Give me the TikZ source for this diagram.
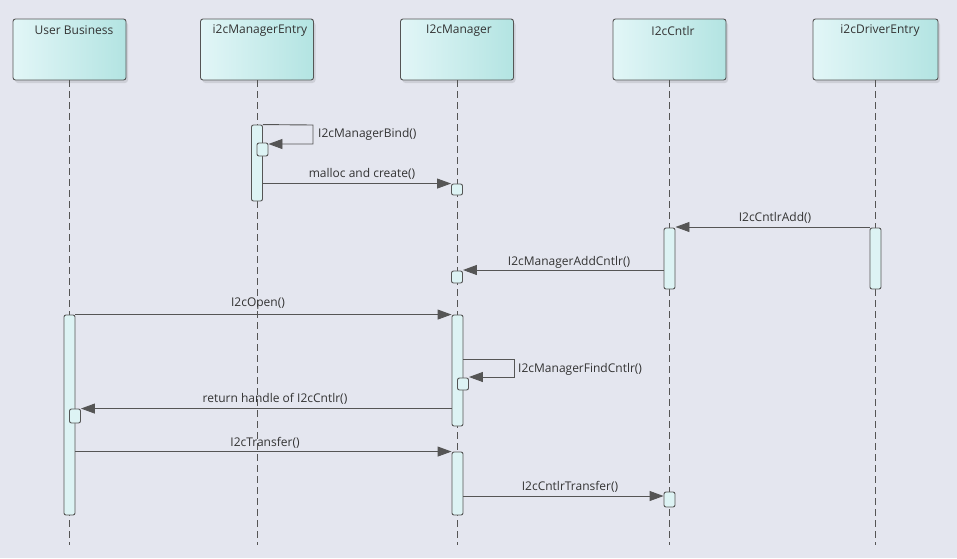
\documentclass[tikz,border=0pt]{standalone}
\usepackage{fontspec}
\setmainfont{Open Sans}
\usetikzlibrary{arrows.meta,calc}
\definecolor{bg}{HTML}{E4E6EF}
\definecolor{ln}{HTML}{555555}
\definecolor{txt}{HTML}{333333}
\definecolor{hl}{HTML}{E2F6F7}
\definecolor{hr}{HTML}{B3E4E2}
\definecolor{actf}{HTML}{DDF3F4}
\definecolor{shd}{HTML}{CDCFD7}
\tikzset{
  head/.style={draw=ln, line width=0.9pt, rounded corners=2.5pt, left color=hl, right color=hr,
    minimum width=113pt, minimum height=61pt, inner sep=0pt},
  headtxt/.style={text=txt, font=\fontsize{12}{14}\selectfont, anchor=center, inner sep=0pt},
  life/.style={draw=ln, line width=0.8pt, dash pattern=on 7pt off 4pt},
  act/.style={draw=ln, line width=0.9pt, fill=actf, rounded corners=2pt, minimum width=11pt, inner sep=0pt},
  msg/.style={draw=ln, line width=0.9pt, -{Triangle[length=14pt,width=10pt]}},
  lbl/.style={text=txt, font=\fontsize{12}{14}\selectfont, inner sep=0pt},
}
\begin{document}
\begin{tikzpicture}[x=1pt,y=-1pt]
\fill[bg] (0,0) rectangle (957,558);
\useasboundingbox (0,0) rectangle (957,558);

% shadows
\foreach \cx/\w in {69.5/113,257/113,457/113,669.5/113,875.5/125}{
  \fill[shd, rounded corners=3pt] ($(\cx,49.5)+(-\w/2+2,-30.5+3)$) rectangle ($(\cx,49.5)+(\w/2+2,30.5+3)$);
}

% headers
\node[head] (ub) at (69.5,49.5) {};
\node[head] (me) at (257,49.5) {};
\node[head] (m) at (457,49.5) {};
\node[head] (c) at (669.5,49.5) {};
\node[head, minimum width=125pt] (d) at (875.5,49.5) {};
\node[headtxt] (ubt) at (74,30.5) {User Business};
\node[headtxt] (met) at (260,30.5) {i2cManagerEntry};
\node[headtxt] (mt) at (459,30.5) {I2cManager};
\node[headtxt] (ct) at (673,30.5) {I2cCntlr};
\node[headtxt] (dt) at (880,30.5) {i2cDriverEntry};

% lifeline ends
\coordinate (ube) at (69.5,545);
\coordinate (mee) at (257,545);
\coordinate (me2) at (457,545);
\coordinate (ce) at (669.5,545);
\coordinate (de) at (875.5,545);
\draw[life] (ub.south) -- (ube);
\draw[life] (me.south) -- (mee);
\draw[life] (m.south) -- (me2);
\draw[life] (c.south) -- (ce);
\draw[life] (d.south) -- (de);

% activations
\node[act, minimum height=76pt] (aME) at (257,163) {};
\node[act, minimum height=13pt] (bME) at (262.5,149.5) {};
\node[act, minimum height=11pt] (bM1) at (457,189.5) {};
\node[act, minimum height=61pt] (aD) at (875.5,258.5) {};
\node[act, minimum height=61pt] (aC) at (669.5,258.5) {};
\node[act, minimum height=12pt] (bM2) at (457,277) {};
\node[act, minimum height=200pt] (aUB) at (69.5,415) {};
\node[act, minimum height=111pt] (aM1) at (457.5,370.5) {};
\node[act, minimum height=12pt] (bM3) at (463,384) {};
\node[act, minimum height=14pt] (bUB) at (75,416) {};
\node[act, minimum height=63pt] (aM2) at (457.5,483.5) {};
\node[act, minimum height=15pt] (bC) at (669.5,499.5) {};

% turning points of self calls
\coordinate (s1a) at (313,125);
\coordinate (s1b) at (313,144);
\coordinate (s2a) at (514,359);
\coordinate (s2b) at (514,377);

% messages
\draw[msg] (aME.north east) -- (s1a) -- (s1b) -- (bME.east |- s1b);
\node[lbl, anchor=west] (l1) at (318,134) {I2cManagerBind()};

\draw[msg] (aME.east |- bM1.north) -- (bM1.north west);
\node[lbl] (l2) at (362,174) {malloc and create()};

\coordinate (y3) at (0,227);
\draw[msg] (aD.west |- y3) -- (aC.east |- y3);
\node[lbl] (l3) at (775,218) {I2cCntlrAdd()};

\coordinate (y4) at (0,270);
\draw[msg] (aC.west |- y4) -- (bM2.east |- y4);
\node[lbl] (l4) at (569,262) {I2cManagerAddCntlr()};

\draw[msg] (aUB.north east) -- (aM1.north west);
\node[lbl] (l5) at (258,304) {I2cOpen()};

\draw[msg] (aM1.east |- s2a) -- (s2a) -- (s2b) -- (bM3.east |- s2b);
\node[lbl, anchor=west] (l6) at (518,369) {I2cManagerFindCntlr()};

\draw[msg] (aM1.west |- bUB.north) -- (bUB.north east);
\node[lbl] (l7) at (275,399) {return handle of I2cCntlr()};

\draw[msg] (aUB.east |- aM2.north) -- (aM2.north west);
\node[lbl] (l8) at (265,443) {I2cTransfer()};

\coordinate (y9) at (0,496);
\draw[msg] (aM2.east |- y9) -- (bC.west |- y9);
\node[lbl] (l9) at (570,487) {I2cCntlrTransfer()};
\end{tikzpicture}
\end{document}
